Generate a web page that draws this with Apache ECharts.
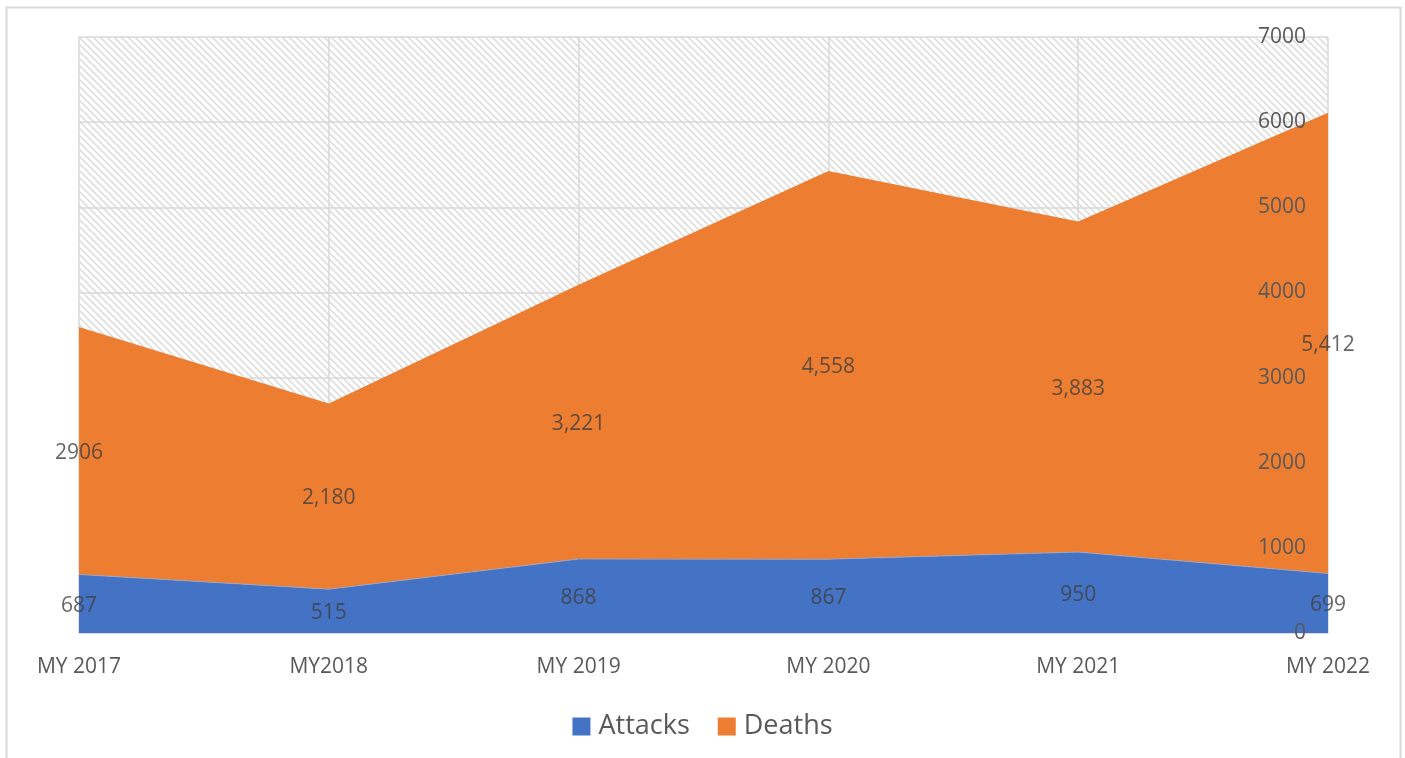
<!DOCTYPE html>
<html>
<head>
<meta charset="utf-8">
<script src="https://cdn.jsdelivr.net/npm/echarts@6/dist/echarts.min.js"></script>
<style>
html,body{margin:0;padding:0;background:#fff;}
#chart{width:1405px;height:758px;}
</style>
</head>
<body>
<div id="chart"></div>
<script>
const categories = ['MY 2017', 'MY2018', 'MY 2019', 'MY 2020', 'MY 2021', 'MY 2022'];
const attacks = [687, 515, 868, 867, 950, 699];
const deaths = [2906, 2180, 3221, 4558, 3883, 5412];
const attackLabels = ['687', '515', '868', '867', '950', '699'];
const deathLabels = ['2906', '2,180', '3,221', '4,558', '3,883', '5,412'];
const yTicks = [0, 1000, 2000, 3000, 4000, 5000, 6000, 7000];

// hatch pattern
const tile = document.createElement('canvas');
const s = 7;
tile.width = s; tile.height = s;
const ctx = tile.getContext('2d');
ctx.fillStyle = '#ffffff';
ctx.fillRect(0, 0, s, s);
ctx.strokeStyle = '#d9d9d9';
ctx.lineWidth = 1.4;
ctx.beginPath();
ctx.moveTo(-1, -1); ctx.lineTo(s + 1, s + 1);
ctx.moveTo(-1, s - 1); ctx.lineTo(1, s + 1);
ctx.moveTo(s - 1, -1); ctx.lineTo(s + 1, 1);
ctx.stroke();

const FONT = '"Open Sans", "Liberation Sans", sans-serif';

const attackMid = attacks.map((v, i) => [categories[i], v / 2]);
const deathMid = deaths.map((v, i) => [categories[i], attacks[i] + v / 2]);

const chart = echarts.init(document.getElementById('chart'), null, {renderer: 'canvas'});
chart.setOption({
  animation: false,
  backgroundColor: '#ffffff',
  textStyle: {fontFamily: FONT},
  graphic: [{
    type: 'rect',
    shape: {x: 6.5, y: 7.5, width: 1394, height: 780},
    style: {fill: 'none', stroke: '#d9d9d9', lineWidth: 2},
    silent: true, z: -10
  }],
  grid: {
    left: 79, right: 77, top: 37, bottom: 125,
    show: true,
    borderWidth: 0,
    backgroundColor: {image: tile, repeat: 'repeat'}
  },
  legend: {
    data: ['Attacks', 'Deaths'],
    left: 'center',
    top: 708,
    itemWidth: 18,
    itemHeight: 18,
    itemGap: 28,
    icon: 'rect',
    textStyle: {fontSize: 27, color: '#595959', fontFamily: FONT, padding: [0, 0, 0, 3]}
  },
  xAxis: {
    type: 'category',
    data: categories,
    boundaryGap: false,
    axisLine: {show: true, lineStyle: {color: '#d9d9d9', width: 1.5}},
    axisTick: {show: false},
    axisLabel: {fontSize: 21, color: '#595959', margin: 24, fontFamily: FONT},
    splitLine: {show: true, lineStyle: {color: '#d9d9d9', width: 1.5}}
  },
  yAxis: [
    {
      type: 'value',
      position: 'right',
      min: 0, max: 7000, interval: 1000,
      axisLine: {show: false},
      axisTick: {show: false},
      axisLabel: {show: false},
      splitLine: {show: true, lineStyle: {color: '#d9d9d9', width: 1.5}}
    },
    {
      type: 'value',
      position: 'right',
      min: 0, max: 7000, interval: 1000,
      z: 10,
      axisLine: {show: false},
      axisTick: {show: false},
      axisLabel: {
        inside: true, margin: 22, fontSize: 21, color: '#595959', fontFamily: FONT,
        formatter: v => yTicks.includes(v) ? String(v) : ''
      },
      splitLine: {show: false}
    }
  ],
  series: [
    {
      name: 'Attacks', type: 'line', stack: 'total', data: attacks, yAxisIndex: 0,
      symbol: 'none', lineStyle: {width: 0.8, color: '#8fa8d8'},
      areaStyle: {color: '#4472C4', opacity: 1}, itemStyle: {color: '#4472C4'}, z: 2
    },
    {
      name: 'Deaths', type: 'line', stack: 'total', data: deaths, yAxisIndex: 0,
      symbol: 'none', lineStyle: {width: 0},
      areaStyle: {color: '#ED7D31', opacity: 1}, itemStyle: {color: '#ED7D31'}, z: 2
    },
    {
      name: 'attackLbl', type: 'scatter', data: attackMid, symbolSize: 0, silent: true, z: 5, yAxisIndex: 0,
      label: {show: true, position: 'inside', offset: [0, 2], fontSize: 21, color: '#404040', fontFamily: FONT,
        formatter: p => attackLabels[p.dataIndex]}
    },
    {
      name: 'deathLbl', type: 'scatter', data: deathMid, symbolSize: 0, silent: true, z: 5, yAxisIndex: 0,
      label: {show: true, position: 'inside', offset: [0, 2], fontSize: 21, color: '#404040', fontFamily: FONT,
        formatter: p => deathLabels[p.dataIndex]}
    }
  ]
});
</script>
</body>
</html>
